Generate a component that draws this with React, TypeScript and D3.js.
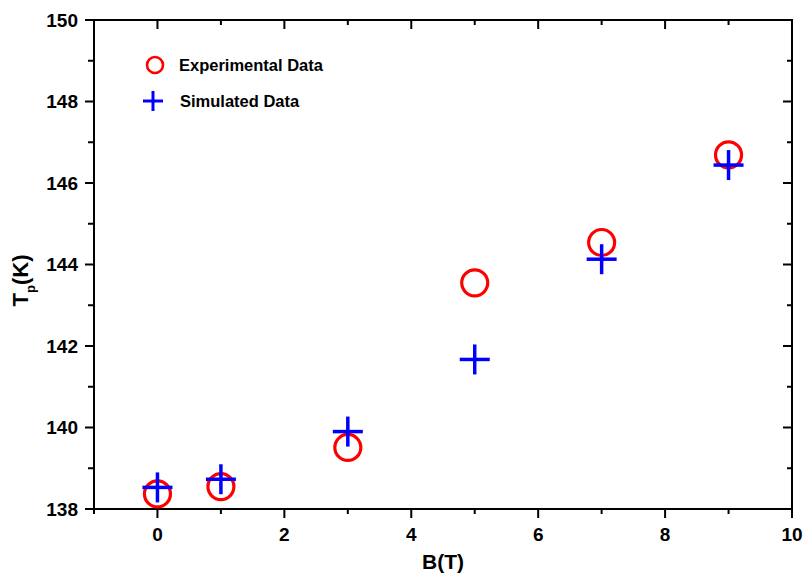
import React from "react";
import * as d3 from "d3";

const bValues = [0, 1, 3, 5, 7, 9];
const experimental = [138.37, 138.55, 139.51, 143.55, 144.54, 146.69];
const simulated = [138.53, 138.73, 139.9, 141.67, 144.13, 146.44];
const xTicks = [0, 2, 4, 6, 8, 10];
const yTicks = [138, 140, 142, 144, 146, 148, 150];
const xMinor = [-1, 1, 3, 5, 7, 9];
const yMinor = [139, 141, 143, 145, 147, 149];
const legendLabels = ["Experimental Data", "Simulated Data"];

const W = 803, H = 581;
const L = 94, R = 792, T = 20, B = 509;
const font = "'Liberation Sans', Arial, Helvetica, sans-serif";

export default function App() {
  const x = d3.scaleLinear().domain([-1, 10]).range([L, R]);
  const y = d3.scaleLinear().domain([138, 150]).range([B, T]);
  const red = "#ff0000";
  const blue = "#0000ff";
  const plus = (cx: number, cy: number, k: string | number, s = 15, w = 3.5) => (
    <g key={k} stroke={blue} strokeWidth={w}>
      <line x1={cx - s} x2={cx + s} y1={cy} y2={cy} />
      <line x1={cx} x2={cx} y1={cy - s} y2={cy + s} />
    </g>
  );
  return (
    <svg width={W} height={H} style={{ position: "absolute", left: 0, top: 0, background: "#fff" }}>
      <rect x={0} y={0} width={W} height={H} fill="#fff" />
      <rect x={L} y={T} width={R - L} height={B - T} fill="none" stroke="#000" strokeWidth={2} />
      {xTicks.map((t) => (
        <g key={"xt" + t}>
          <line x1={x(t)} x2={x(t)} y1={B} y2={B + 9} stroke="#000" strokeWidth={2} />
          <line x1={x(t)} x2={x(t)} y1={T} y2={T + 9} stroke="#000" strokeWidth={2} />
          <text x={x(t)} y={541} textAnchor="middle" fontFamily={font} fontWeight="bold" fontSize={19}>{t}</text>
        </g>
      ))}
      {xMinor.map((t) => (
        <g key={"xm" + t}>
          <line x1={x(t)} x2={x(t)} y1={B} y2={B + 5} stroke="#000" strokeWidth={2} />
          <line x1={x(t)} x2={x(t)} y1={T} y2={T + 5} stroke="#000" strokeWidth={2} />
        </g>
      ))}
      {yTicks.map((t) => (
        <g key={"yt" + t}>
          <line x1={L - 9} x2={L} y1={y(t)} y2={y(t)} stroke="#000" strokeWidth={2} />
          <line x1={R - 9} x2={R} y1={y(t)} y2={y(t)} stroke="#000" strokeWidth={2} />
          <text x={78} y={y(t) + 6.5} textAnchor="end" fontFamily={font} fontWeight="bold" fontSize={19}>{t}</text>
        </g>
      ))}
      {yMinor.map((t) => (
        <g key={"ym" + t}>
          <line x1={L - 6} x2={L} y1={y(t)} y2={y(t)} stroke="#000" strokeWidth={2} />
          <line x1={R - 5} x2={R} y1={y(t)} y2={y(t)} stroke="#000" strokeWidth={2} />
        </g>
      ))}
      <text x={(L + R) / 2} y={569} textAnchor="middle" fontFamily={font} fontWeight="bold" fontSize={21}>B(T)</text>
      <text transform={`translate(28,${(T + B) / 2 + 16}) rotate(-90)`} textAnchor="middle" fontFamily={font} fontWeight="bold" fontSize={22}>
        T<tspan fontSize={13} dy={7}>p</tspan><tspan dy={-7}>(K)</tspan>
      </text>
      {bValues.map((b, i) => (
        <circle key={"c" + i} cx={x(b)} cy={y(experimental[i])} r={13} fill="none" stroke={red} strokeWidth={3.2} />
      ))}
      {bValues.map((b, i) => plus(x(b), y(simulated[i]), "p" + i))}
      <circle cx={155} cy={65} r={8} fill="none" stroke={red} strokeWidth={2.6} />
      <text x={179} y={71} fontFamily={font} fontWeight="bold" fontSize={16.5}>{legendLabels[0]}</text>
      {plus(153, 101, "lp", 10, 3)}
      <text x={180} y={107} fontFamily={font} fontWeight="bold" fontSize={16.5}>{legendLabels[1]}</text>
    </svg>
  );
}
